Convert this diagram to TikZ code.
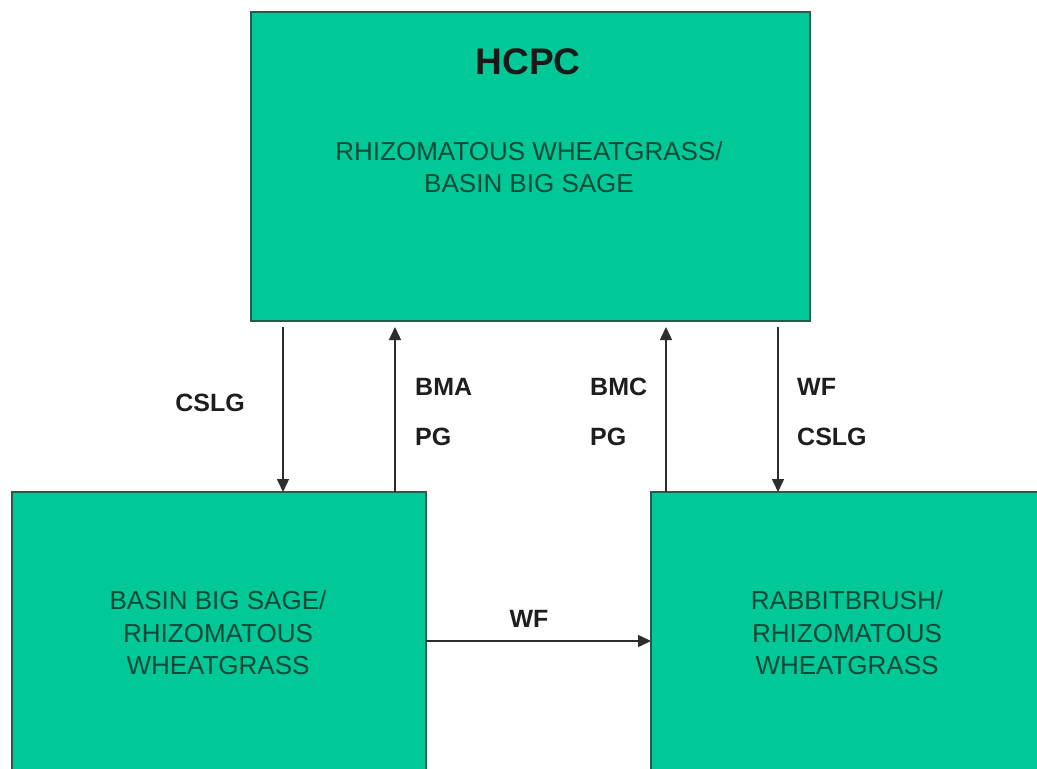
\documentclass[tikz,border=0pt]{standalone}
\usepackage{fontspec}
\setmainfont{Liberation Sans}
\usetikzlibrary{arrows.meta}
\definecolor{boxfill}{RGB}{0,200,150}
\definecolor{boxline}{RGB}{40,90,72}
\definecolor{boxtext}{RGB}{12,72,55}
\definecolor{arrcol}{RGB}{45,45,45}
\definecolor{lblcol}{RGB}{30,30,30}
\tikzset{
  greenbox/.style={draw=boxline, line width=1.8pt, fill=boxfill, inner sep=0pt, outer sep=0pt, anchor=north west},
  boxlabel/.style={text=boxtext, align=center, inner sep=0pt, font=\fontsize{26}{32.5}\selectfont},
  titlelabel/.style={text=black!90, inner sep=0pt, font=\fontsize{37}{40}\selectfont\bfseries},
  edgelabel/.style={text=lblcol, inner sep=0pt, anchor=west, font=\fontsize{25}{28}\selectfont\bfseries},
  arr/.style={draw=arrcol, line width=1.5pt, -{Triangle[length=13pt,width=12pt]}}
}
\begin{document}
\begin{tikzpicture}[x=1pt,y=-1pt]
\useasboundingbox (0,0) rectangle (1037,769);
\clip (0,0) rectangle (1037,769);
\fill[white] (0,0) rectangle (1037,769);
% boxes
\node[greenbox, minimum width=559pt, minimum height=309pt] (top) at (251,12) {};
\node[greenbox, minimum width=414pt, minimum height=282pt] (bl) at (12,492) {};
\node[greenbox, minimum width=392pt, minimum height=282pt] (br) at (651,492) {};
% box texts
\node[titlelabel] (hcpc) at (528,62) {HCPC};
\node[boxlabel] (toptext) at (529,167) {RHIZOMATOUS WHEATGRASS/\\BASIN BIG SAGE};
\node[boxlabel] (bltext) at (218,633) {BASIN BIG SAGE/\\RHIZOMATOUS\\WHEATGRASS};
\node[boxlabel] (brtext) at (847,633) {RABBITBRUSH/\\RHIZOMATOUS\\WHEATGRASS};
% connectors
\draw[arr] ([xshift=32pt,yshift=-6pt]top.south west) -- ([xshift=271pt]bl.north west);
\draw[arr] ([xshift=383pt]bl.north west) -- ([xshift=144pt,yshift=-6pt]top.south west);
\draw[arr] ([xshift=15pt]br.north west) -- ([xshift=415pt,yshift=-6pt]top.south west);
\draw[arr] ([xshift=527pt,yshift=-6pt]top.south west) -- ([xshift=127pt]br.north west);
\draw[arr] ([yshift=-8pt]bl.east) -- ([yshift=-8pt]br.west);
% connector labels
\node[edgelabel, anchor=center] (l1) at (210,403) {CSLG};
\node[edgelabel] (l2) at (415,387) {BMA};
\node[edgelabel] (l3) at (415,437) {PG};
\node[edgelabel] (l4) at (590,387) {BMC};
\node[edgelabel] (l5) at (590,437) {PG};
\node[edgelabel] (l6) at (797,387) {WF};
\node[edgelabel] (l7) at (797,437) {CSLG};
\node[edgelabel, anchor=center] (l8) at (529,619) {WF};
\end{tikzpicture}
\end{document}
